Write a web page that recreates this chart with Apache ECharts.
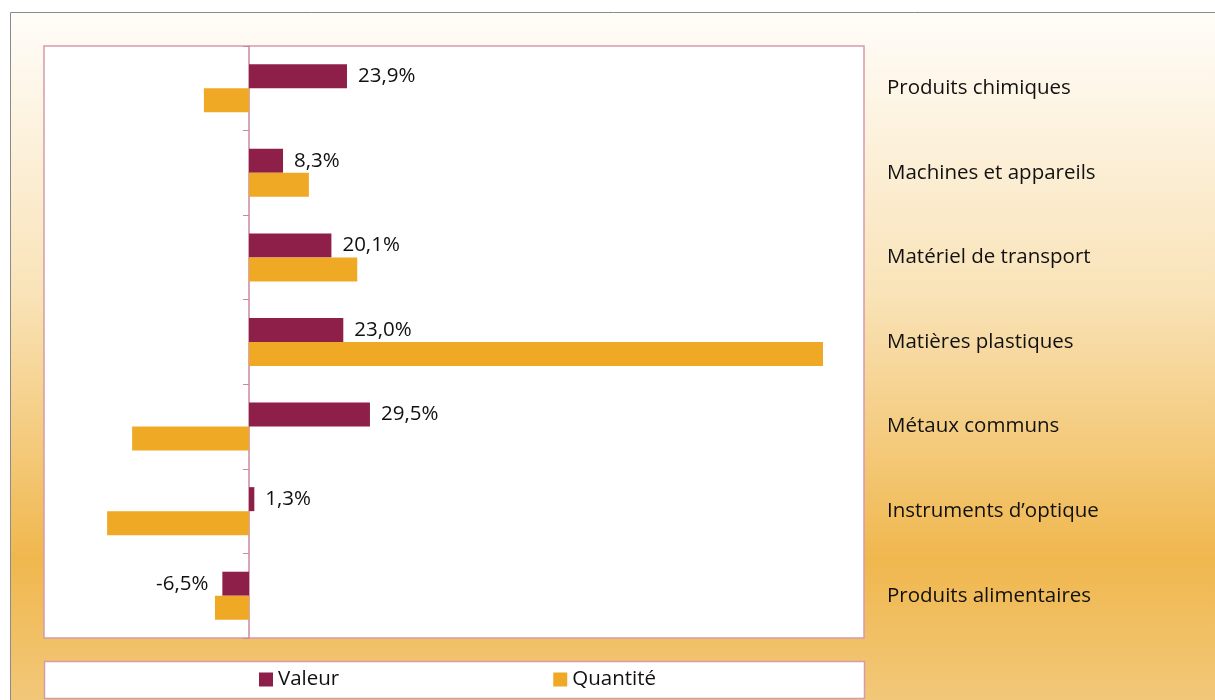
<!DOCTYPE html>
<html>
<head>
<meta charset="utf-8">
<title>Valeur / Quantité</title>
<script src="https://cdn.jsdelivr.net/npm/echarts@6/dist/echarts.min.js"></script>
<style>
  html, body { margin: 0; padding: 0; background: #fff; }
  #main { width: 1215px; height: 700px; }
</style>
</head>
<body>
<div id="main"></div>
<script>
// données
var categories = ['Produits chimiques', 'Machines et appareils', 'Matériel de transport',
  'Matières plastiques', 'Métaux communs', 'Instruments d\u2019optique', 'Produits alimentaires'];
var valeur = [23.9, 8.3, 20.1, 23.0, 29.5, 1.3, -6.5];
var quantite = [-11.0, 14.6, 26.4, 140.0, -28.5, -34.6, -8.3];

var fontFam = '"Open Sans", "Noto Sans", sans-serif';
var fs = 20.5;

// étiquettes à gauche pour les valeurs négatives
var valeurData = valeur.map(function (v) {
  return v < 0 ? { value: v, label: { position: 'left', distance: 14 } } : v;
});

var chart = echarts.init(document.getElementById('main'));

var option = {
  animation: false,
  textStyle: { fontFamily: fontFam },
  graphic: [
    {
      type: 'rect', z: -10, silent: true,
      shape: { x: 10.5, y: 12.5, width: 1215, height: 700 },
      style: {
        stroke: '#8a8a8a', lineWidth: 1,
        fill: new echarts.graphic.LinearGradient(0, 0, 0, 1, [
          { offset: 0, color: '#fffdf9' },
          { offset: 0.4, color: '#f9e3b8' },
          { offset: 0.78, color: '#f0b74e' },
          { offset: 1, color: '#f2c97c' }
        ])
      }
    },
    {
      type: 'rect', z: -5, silent: true,
      shape: { x: 44.5, y: 661.5, width: 820, height: 37 },
      style: { fill: '#fff', stroke: '#d59aab', lineWidth: 1.5 }
    }
  ],
  legend: {
    data: ['Valeur', 'Quantité'],
    left: 254, top: 664,
    icon: 'rect',
    itemWidth: 14, itemHeight: 14,
    itemGap: 214,
    textStyle: { fontSize: fs, color: '#111', fontFamily: fontFam }
  },
  grid: {
    left: 44, top: 46, width: 820, height: 592,
    show: true, backgroundColor: '#fff',
    borderColor: '#d59aab', borderWidth: 1.5
  },
  xAxis: {
    type: 'value', min: -50, max: 150,
    axisLine: { show: false }, axisTick: { show: false },
    axisLabel: { show: false }, splitLine: { show: false }
  },
  yAxis: [
    {
      type: 'category', data: categories, inverse: true,
      axisLine: { onZero: true, lineStyle: { color: '#c98aa0', width: 1.5 } },
      axisTick: { show: true, length: 6, lineStyle: { color: '#c98aa0' } },
      axisLabel: { show: false }
    },
    {
      type: 'category', data: categories, inverse: true, position: 'right',
      axisLine: { show: false }, axisTick: { show: false },
      axisLabel: { margin: 23, fontSize: fs, color: '#111', align: 'left', fontFamily: fontFam }
    }
  ],
  series: [
    {
      name: 'Valeur', type: 'bar', yAxisIndex: 0,
      data: valeurData,
      barWidth: 24, barGap: '0%',
      itemStyle: { color: '#8e1f48' },
      label: {
        show: true, position: 'right', distance: 11,
        fontSize: fs, color: '#111', fontFamily: fontFam,
        formatter: function (p) { return p.value.toFixed(1).replace('.', ',') + '%'; }
      }
    },
    {
      name: 'Quantité', type: 'bar', yAxisIndex: 0,
      data: quantite,
      barWidth: 24, barGap: '0%',
      itemStyle: { color: '#efa924' }
    }
  ]
};

chart.setOption(option);
</script>
</body>
</html>
